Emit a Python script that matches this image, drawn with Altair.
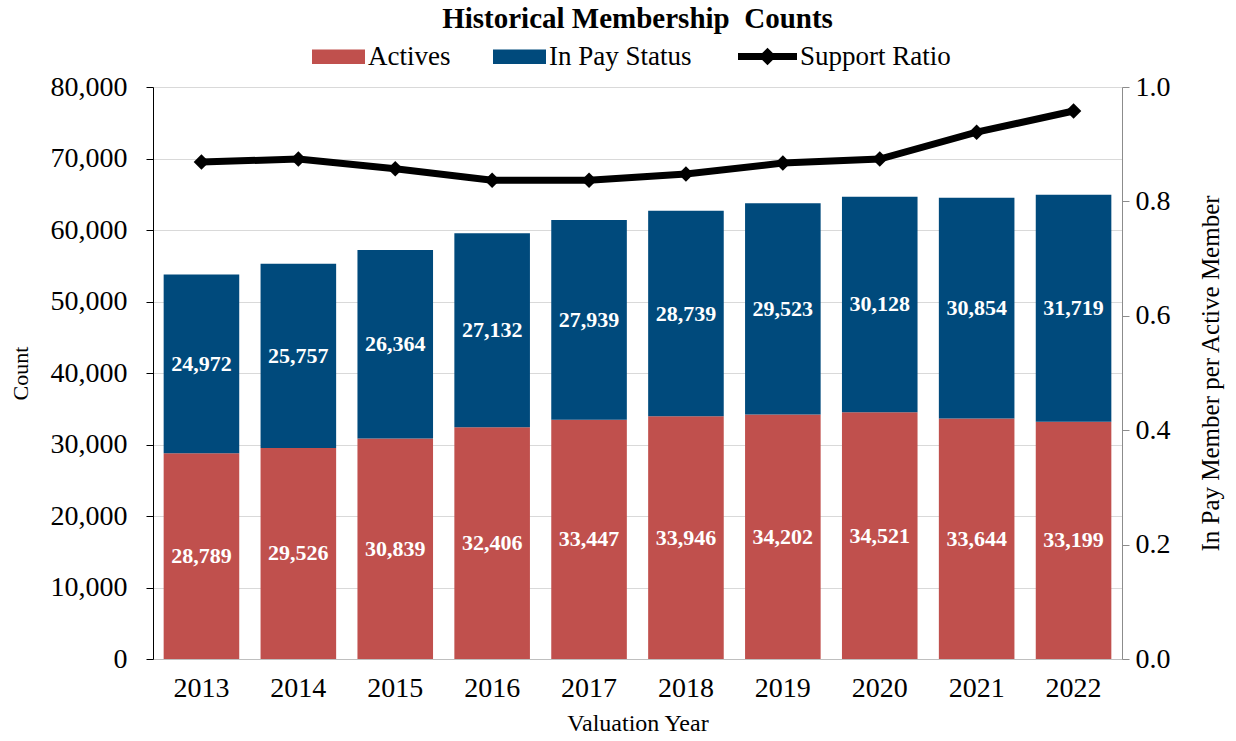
import altair as alt
import pandas as pd

years = ["2013", "2014", "2015", "2016", "2017", "2018", "2019", "2020", "2021", "2022"]
actives = [28789, 29526, 30839, 32406, 33447, 33946, 34202, 34521, 33644, 33199]
in_pay = [24972, 25757, 26364, 27132, 27939, 28739, 29523, 30128, 30854, 31719]
support_ratio = [0.869, 0.874, 0.857, 0.837, 0.837, 0.848, 0.867, 0.874, 0.921, 0.958]
left_ticks = [0, 10000, 20000, 30000, 40000, 50000, 60000, 70000, 80000]
right_ticks = [0.0, 0.2, 0.4, 0.6, 0.8, 1.0]

FONT = "Liberation Serif"
RED = "#C0504D"
BLUE = "#004A7C"

rows = []
for i, y in enumerate(years):
    rows.append({"year": y, "series": "Actives", "value": actives[i], "ord": 0})
    rows.append({"year": y, "series": "In Pay Status", "value": in_pay[i], "ord": 1})
bars_df = pd.DataFrame(rows)
line_df = pd.DataFrame({"year": years, "ratio": support_ratio, "series": ["Support Ratio"] * len(years)})

x_axis = alt.Axis(labelAngle=0, labelFontSize=28, labelFont=FONT, labelColor="black",
                  titleFont=FONT, titleFontSize=24, titleFontWeight="normal", titleColor="black",
                  ticks=False, domainColor="#BFBFBF", labelPadding=15, titlePadding=9)
x_scale = alt.Scale(paddingInner=0.22, paddingOuter=0.11)

left_axis = alt.Axis(values=left_ticks, format=",.0f", labelFont=FONT, labelFontSize=28,
                     labelColor="black", titleFont=FONT, titleFontSize=22, titleFontWeight="normal",
                     titleColor="black", domainColor="black", tickColor="black", tickSize=7,
                     grid=True, gridColor="#D9D9D9", labelPadding=19, titlePadding=18)
left_scale = alt.Scale(domain=[0, 80000])

right_axis = alt.Axis(orient="right", values=right_ticks, format=".1f",
                      labelFont=FONT, labelFontSize=28, labelColor="black",
                      titleFont=FONT, titleFontSize=25, titleFontWeight="normal", titleColor="black",
                      titleAngle=270, titleBaseline="top", domainColor="#8C8C8C", tickColor="#8C8C8C",
                      tickSize=7, grid=False, labelPadding=6, titlePadding=28)
right_scale = alt.Scale(domain=[0, 1])


def xenc():
    return alt.X("year:N", title="Valuation Year", sort=years, scale=x_scale, axis=x_axis)


rect_path = "M-1,-0.27 L1,-0.27 L1,0.27 L-1,0.27 Z"
line_path = "M-1,-0.12 L1,-0.12 L1,0.12 L-1,0.12 Z M0,-0.3 L0.3,0 L0,0.3 L-0.3,0 Z"

bars = alt.Chart(bars_df).mark_bar().encode(
    x=xenc(),
    y=alt.Y("value:Q", stack="zero", title="Count", scale=left_scale, axis=left_axis),
    color=alt.Color("series:N", scale=alt.Scale(domain=["Actives", "In Pay Status"], range=[RED, BLUE]),
                    legend=alt.Legend(title=None, orient="none", direction="horizontal",
                                      legendX=159, legendY=-57,
                                      symbolType=rect_path, symbolSize=2809, symbolStrokeWidth=0,
                                      labelFont=FONT, labelFontSize=27, labelColor="black",
                                      columnPadding=42, symbolOffset=0, labelOffset=3)),
    order=alt.Order("ord:Q"),
)

labels = alt.Chart(bars_df).transform_stack(
    stack="value", as_=["v0", "v1"], groupby=["year"], sort=[alt.SortField("ord")]
).transform_calculate(
    mid="(datum.v0 + datum.v1) / 2",
    lbl="format(datum.value, ',')"
).mark_text(font=FONT, fontSize=22, fontWeight="bold", color="white").encode(
    x=xenc(),
    y=alt.Y("mid:Q", title="Count", scale=left_scale, axis=left_axis),
    text="lbl:N",
)

line = alt.Chart(line_df).mark_line(strokeWidth=7, color="black").encode(
    x=xenc(),
    y=alt.Y("ratio:Q", title="In Pay Member per Active Member", scale=right_scale, axis=right_axis),
    stroke=alt.Stroke("series:N", scale=alt.Scale(domain=["Support Ratio"], range=["black"]),
                      legend=alt.Legend(title=None, orient="none", legendX=585, legendY=-60,
                                        symbolType=line_path, symbolSize=3481,
                                        symbolFillColor="black", symbolStrokeWidth=0,
                                        labelFont=FONT, labelFontSize=27, labelColor="black",
                                        symbolOffset=0, labelOffset=3)),
)

points = alt.Chart(line_df).mark_point(shape="diamond", filled=True, size=240, color="black", opacity=1).encode(
    x=xenc(),
    y=alt.Y("ratio:Q", title="In Pay Member per Active Member", scale=right_scale, axis=right_axis),
)

left = alt.layer(bars, labels)
right = alt.layer(line, points)

chart = alt.layer(left, right).resolve_scale(y="independent", color="independent", stroke="independent").properties(
    width=969, height=572,
    title=alt.Title("Historical Membership\u00a0 Counts", font=FONT, fontSize=29, fontWeight="bold",
                    color="black", anchor="middle", offset=-7),
    padding={"left": 9, "right": 5, "top": 5, "bottom": 5},
).configure_view(stroke=None)

chart.save("out.html", embed_options={"renderer": "svg", "actions": False})
